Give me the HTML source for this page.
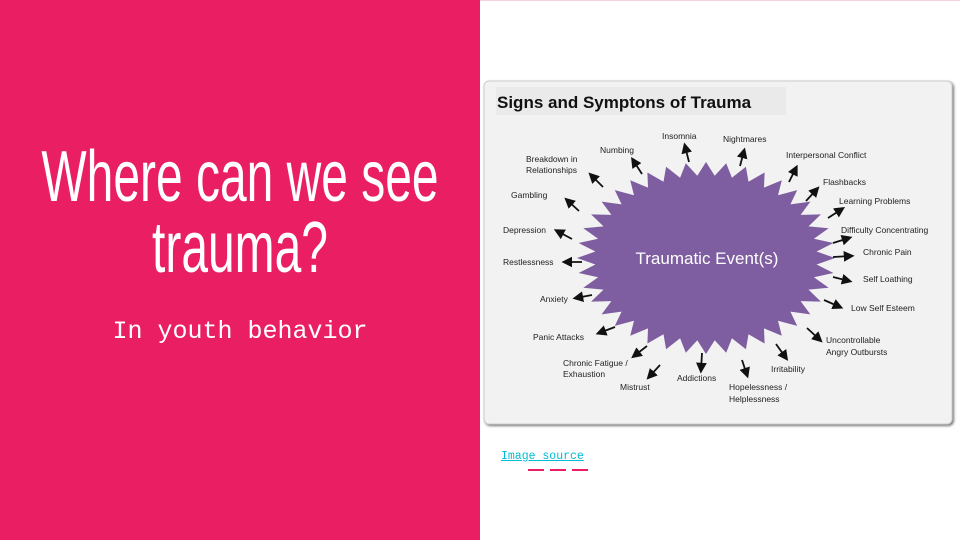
<!DOCTYPE html>
<html><head><meta charset="utf-8"><style>
body{margin:0;width:960px;height:540px;overflow:hidden;background:#fff;position:relative;font-family:"Liberation Sans",sans-serif}
#left{position:absolute;left:0;top:0;width:480px;height:540px;background:#e91e63}
.t{position:absolute;left:-100px;width:680px;margin:0;text-align:center;color:#fff;font-family:"Liberation Sans",sans-serif;font-size:72px;line-height:72px;transform:scaleX(0.666);white-space:nowrap}
#sub{position:absolute;left:0;width:480px;top:317px;text-align:center;color:#fff;font-family:"Liberation Mono",monospace;font-size:25px}
#src{position:absolute;left:501px;top:450px;font-family:"Liberation Mono",monospace;font-size:11.5px;color:#00bcd4;text-decoration:underline}
</style></head><body>
<div id="left"><div class="t" style="top:141px">Where can we see</div><div class="t" style="top:212px">trauma?</div><div id="sub">In youth behavior</div></div>
<div style="position:absolute;left:480px;top:0;width:480px;height:1px;background:#f8d0dc"></div>
<svg style="position:absolute;left:0;top:0" width="960" height="540">
<defs><marker id="a" markerWidth="6" markerHeight="6" refX="4" refY="3" orient="auto"><path d="M0,0L6,3L0,6z" fill="#111"/></marker>
<filter id="s"><feDropShadow dx="1.5" dy="1.5" stdDeviation="1.2" flood-color="#777"/></filter></defs>
<rect x="484" y="81" width="468" height="343" rx="5" fill="#f2f2f2" stroke="#ccc" filter="url(#s)"/>
<rect x="496" y="87" width="290" height="28" fill="#eaeaea"/>
<text x="497" y="108" font-size="17" font-weight="bold" fill="#111">Signs and Symptons of Trauma</text>
<polygon id="star" fill="#7e5ea0"/>
<text x="707" y="264" font-size="17" fill="#fff" text-anchor="middle">Traumatic Event(s)</text>
<g stroke="#111" stroke-width="1.8" marker-end="url(#a)">
<line x1="689" y1="162" x2="685" y2="146"/><line x1="740" y1="166" x2="744" y2="151"/>
<line x1="789" y1="182" x2="796" y2="168"/><line x1="806" y1="201" x2="817" y2="189"/>
<line x1="828" y1="218" x2="842" y2="209"/><line x1="833" y1="243" x2="849" y2="238"/>
<line x1="833" y1="257" x2="851" y2="256"/><line x1="833" y1="277" x2="849" y2="281"/>
<line x1="824" y1="300" x2="840" y2="307"/><line x1="807" y1="328" x2="820" y2="340"/>
<line x1="776" y1="344" x2="786" y2="358"/><line x1="742" y1="360" x2="747" y2="375"/>
<line x1="702" y1="353" x2="701" y2="370"/><line x1="660" y1="365" x2="649" y2="377"/>
<line x1="647" y1="346" x2="634" y2="356"/><line x1="615" y1="327" x2="599" y2="333"/>
<line x1="592" y1="295" x2="576" y2="298"/><line x1="582" y1="262" x2="565" y2="262"/>
<line x1="572" y1="239" x2="557" y2="231"/><line x1="579" y1="211" x2="567" y2="200"/>
<line x1="603" y1="187" x2="591" y2="175"/><line x1="642" y1="174" x2="633" y2="160"/>
</g>
<g font-size="8.5" fill="#222">
<text x="662" y="139">Insomnia</text><text x="723" y="142">Nightmares</text>
<text x="786" y="158">Interpersonal Conflict</text><text x="823" y="185">Flashbacks</text>
<text x="839" y="204">Learning Problems</text><text x="841" y="233">Difficulty Concentrating</text>
<text x="863" y="255">Chronic Pain</text><text x="863" y="282">Self Loathing</text>
<text x="851" y="311">Low Self Esteem</text><text x="826" y="343">Uncontrollable</text><text x="826" y="355">Angry Outbursts</text>
<text x="771" y="372">Irritability</text><text x="729" y="390">Hopelessness /</text><text x="729" y="402">Helplessness</text>
<text x="677" y="381">Addictions</text><text x="620" y="390">Mistrust</text>
<text x="563" y="366">Chronic Fatigue /</text><text x="563" y="377">Exhaustion</text>
<text x="533" y="340">Panic Attacks</text><text x="540" y="302">Anxiety</text>
<text x="503" y="265">Restlessness</text><text x="503" y="233">Depression</text>
<text x="511" y="198">Gambling</text><text x="526" y="162">Breakdown in</text><text x="526" y="173">Relationships</text>
<text x="600" y="153">Numbing</text>
</g>
<g fill="#e91e63"><rect x="528" y="469" width="16" height="2"/><rect x="550" y="469" width="16" height="2"/><rect x="572" y="469" width="16" height="2"/></g>
</svg>
<div id="src">Image source</div>
<script>
var p=[],n=40,cx=706,cy=258;
for(var i=0;i<2*n;i++){var t=Math.PI*i/n,r=i%2?0.86:1;p.push((cx+129*r*Math.cos(t)).toFixed(1)+","+(cy+96*r*Math.sin(t)).toFixed(1));}
document.getElementById("star").setAttribute("points",p.join(" "));
</script>
</body></html>
